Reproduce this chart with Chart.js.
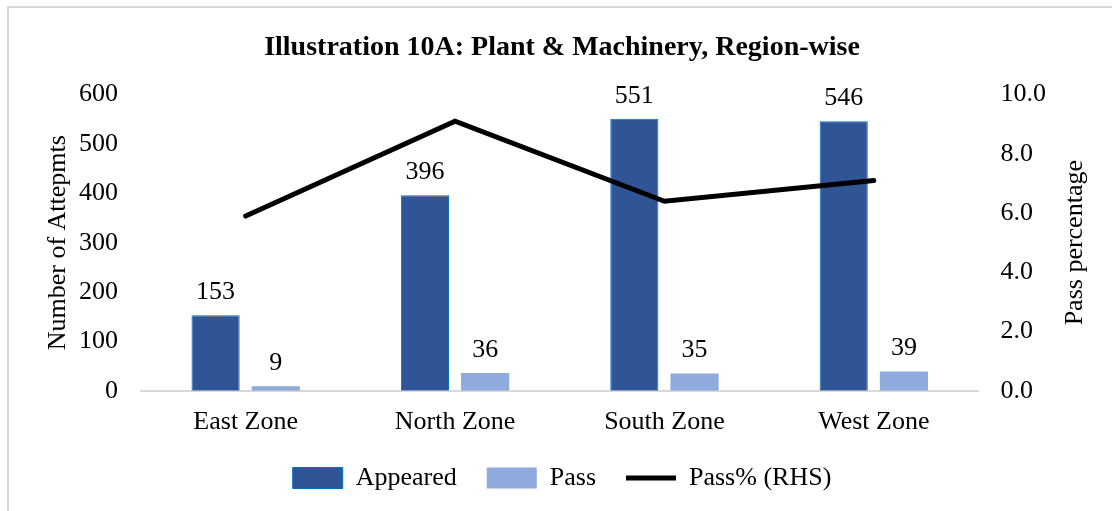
<!DOCTYPE html>
<html>
<head>
<meta charset="utf-8">
<script src="https://cdn.jsdelivr.net/npm/chart.js@4"></script>
<style>
  html, body { margin: 0; padding: 0; background: #fff; }
  #wrap { position: absolute; left: 7px; top: 6px; width: 1105px; height: 505px;
          border-left: 2px solid #d9d9d9; border-top: 2px solid #d9d9d9; box-sizing: border-box; }
  canvas { display: block; }
</style>
</head>
<body>
<div id="wrap"><canvas id="chart"></canvas></div>
<script>
const zones = ['East Zone', 'North Zone', 'South Zone', 'West Zone'];
const appeared = [153, 396, 551, 546];
const passed = [9, 36, 35, 39];
const passPct = [5.9, 9.1, 6.4, 7.1];

const serif = "'Liberation Serif', 'Times New Roman', serif";
const legendOrder = ['Appeared', 'Pass', 'Pass% (RHS)'];

function sideTitle(ctx, text, x, y) {
    ctx.save();
    ctx.translate(x, y);
    ctx.rotate(-Math.PI / 2);
    ctx.textAlign = 'center';
    ctx.textBaseline = 'middle';
    ctx.fillText(text, 0, 0);
    ctx.restore();
}

// values above the bars, plus both axis titles read bottom-to-top
const extras = {
    id: 'extras',
    afterDatasetsDraw(chart) {
        const ctx = chart.ctx;
        const area = chart.chartArea;
        ctx.save();
        ctx.font = '26px ' + serif;
        ctx.fillStyle = '#000';
        ctx.textAlign = 'center';
        ctx.textBaseline = 'bottom';
        chart.data.datasets.forEach((ds, i) => {
            if (ds.type !== 'bar')
                return;
            chart.getDatasetMeta(i).data.forEach((bar, j) => {
                ctx.fillText(ds.data[j], bar.x, bar.y - 10);
            });
        });

        const midY = (area.top + area.bottom) / 2;
        sideTitle(ctx, 'Number of Attepmts', area.left - 83, midY);
        sideTitle(ctx, 'Pass percentage', area.right + 97, midY);
        ctx.restore();
    }
};

new Chart(document.getElementById('chart'), {
    data: {
        labels: zones,
        datasets: [
            {
                type: 'line',
                label: 'Pass% (RHS)',
                data: passPct,
                yAxisID: 'y2',
                borderColor: '#000',
                backgroundColor: '#000',
                borderWidth: 5,
                borderCapStyle: 'round',
                pointRadius: 0,
                pointStyle: 'line',
                tension: 0,
                order: 0
            },
            {
                type: 'bar',
                label: 'Appeared',
                data: appeared,
                yAxisID: 'y',
                backgroundColor: '#2F5597',
                borderColor: '#0070C0',
                borderWidth: 1,
                pointStyle: 'rect',
                categoryPercentage: 0.575,
                barPercentage: 0.8,
                order: 1
            },
            {
                type: 'bar',
                label: 'Pass',
                data: passed,
                yAxisID: 'y',
                backgroundColor: '#8FAADC',
                borderWidth: 0,
                pointStyle: 'rect',
                categoryPercentage: 0.575,
                barPercentage: 0.8,
                order: 1
            }
        ]
    },
    options: {
        responsive: true,
        maintainAspectRatio: false,
        animation: false,
        layout: { padding: { top: 23, left: 47, right: 44, bottom: 10 } },
        plugins: {
            title: {
                display: true,
                text: 'Illustration 10A: Plant & Machinery, Region-wise',
                color: '#000',
                font: { family: serif, size: 28, weight: 'bold' },
                padding: { top: 0, bottom: 30 }
            },
            legend: {
                position: 'bottom',
                labels: {
                    color: '#000',
                    font: { family: serif, size: 26 },
                    usePointStyle: true,
                    pointStyleWidth: 50,
                    boxHeight: 21,
                    padding: 30,
                    sort: (a, b) => legendOrder.indexOf(a.text) - legendOrder.indexOf(b.text)
                }
            },
            tooltip: { enabled: false }
        },
        scales: {
            x: {
                grid: { display: false, drawTicks: false },
                border: { color: '#d9d9d9', width: 2 },
                ticks: { color: '#000', font: { family: serif, size: 26 }, padding: 16 },
                afterFit: scale => { scale.height -= 19; }
            },
            y: {
                position: 'left',
                min: 0,
                max: 600,
                grid: { display: false, drawTicks: false },
                border: { display: false },
                ticks: { stepSize: 100, color: '#000', font: { family: serif, size: 26 }, padding: 23 }
            },
            y2: {
                position: 'right',
                min: 0,
                max: 10,
                grid: { display: false, drawTicks: false },
                border: { display: false },
                ticks: {
                    stepSize: 2,
                    color: '#000',
                    font: { family: serif, size: 26 },
                    padding: 22,
                    callback: v => v.toFixed(1)
                }
            }
        }
    },
    plugins: [extras]
});
</script>
</body>
</html>
